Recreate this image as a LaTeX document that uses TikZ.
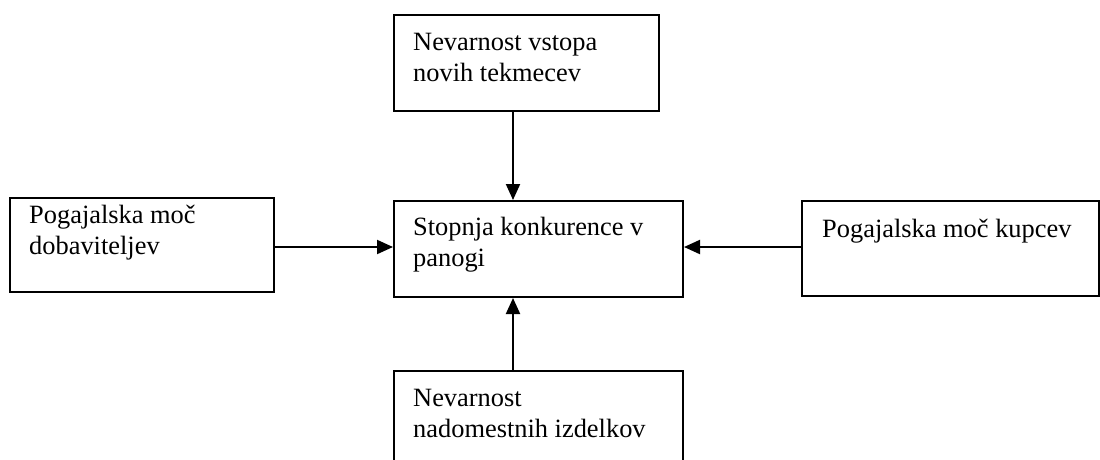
\documentclass[tikz,border=0pt]{standalone}
\usepackage{fontspec}
\setmainfont{Liberation Serif}
\usetikzlibrary{arrows.meta}
\tikzset{
  box/.style={draw=black, line width=2pt, fill=none, inner sep=0pt, anchor=north west},
  lbl/.style={anchor=base west, inner sep=0pt, align=left,
    font=\fontsize{26.4pt}{31pt}\selectfont},
  arr/.style={line width=2pt, -{Triangle[length=16pt,width=14pt]}}
}
\begin{document}
\begin{tikzpicture}[x=1pt,y=-1pt]
\useasboundingbox (0,0) rectangle (1100,459);
\clip (0,0) rectangle (1100,459);
% boxes
\node[box, minimum width=265pt, minimum height=96pt] (top) at (393,14) {};
\node[box, minimum width=264pt, minimum height=94pt] (left) at (9,197) {};
\node[box, minimum width=289pt, minimum height=96pt] (cen) at (393,200) {};
\node[box, minimum width=297pt, minimum height=95pt] (right) at (801,200) {};
\node[box, minimum width=289pt, minimum height=110pt] (bot) at (393,370) {};
% texts (base anchor = baseline of last line)
\node[lbl] (ttop) at (413,81) {Nevarnost vstopa\\novih tekmecev};
\node[lbl] (tleft) at (29,254) {Pogajalska moč\\dobaviteljev};
\node[lbl] (tcen) at (413,266) {Stopnja konkurence v\\panogi};
\node[lbl] (tright) at (822,237) {Pogajalska moč kupcev};
\node[lbl] (tbot) at (413,437) {Nevarnost\\nadomestnih izdelkov};
% connector guides
\coordinate (ax) at (513,0);
\coordinate (ay) at (0,247);
% arrows
\draw[arr] (top.south -| ax) -- (cen.north -| ax);
\draw[arr] (bot.north -| ax) -- (cen.south -| ax);
\draw[arr] (left.east |- ay) -- (cen.west |- ay);
\draw[arr] (right.west |- ay) -- (cen.east |- ay);
\end{tikzpicture}
\end{document}
